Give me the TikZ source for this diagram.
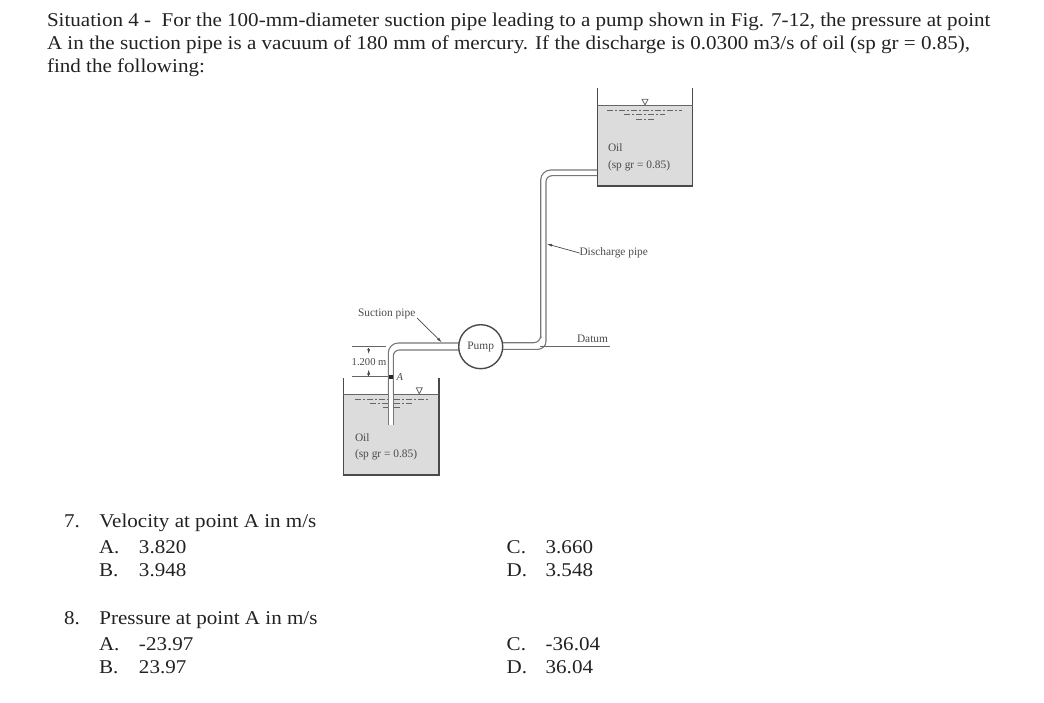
\documentclass[tikz,border=0pt]{standalone}
\usepackage{fontspec}
\setmainfont{Liberation Serif}
\newfontfamily\bodyf[FakeStretch=1.08]{Liberation Serif}
\definecolor{ink}{HTML}{222222}
\definecolor{fig}{HTML}{4A4A4A}
\definecolor{oil}{HTML}{DCDCDC}
\newcommand{\optA}[2]{\makebox[40pt][l]{#1}#2}
\newcommand{\optC}[2]{\makebox[39pt][l]{#1}#2}
\tikzset{
 x=1pt,y=-1pt,
 body/.style={anchor=base west,inner sep=0pt,outer sep=0pt,text=ink,font=\fontsize{19.5}{22}\selectfont\bodyf},
 figt/.style={inner sep=0pt,outer sep=0pt,text=fig,font=\fontsize{11.4}{12}\selectfont},
 wall/.style={draw=fig,line width=1.5pt},
 pipe/.style={draw=fig!75,line width=1.1pt},
 thin1/.style={draw=fig!85,line width=.8pt},
 ripple/.style={draw=fig!85,line width=.9pt,dash pattern=on 6pt off 2pt on 2pt off 2pt},
 lead/.style={draw=fig,line width=.7pt,-{Latex[length=5pt,width=3pt]}},
}
\usetikzlibrary{arrows.meta}
\begin{document}
\begin{tikzpicture}
\useasboundingbox (0,0) rectangle (1044,703);
\node[body] (t1) at (47,27) {Situation 4 -\ \ For the 100-mm-diameter suction pipe leading to a pump shown in Fig. 7-12, the pressure at point};
\node[body] (t2) at (47,50) {A in the suction pipe is a vacuum of 180 mm of mercury. If the discharge is 0.0300 m3/s of oil (sp gr = 0.85),};
\node[body] (t3) at (47,73) {find the following:};
% upper tank
\fill[oil] (597,105) rectangle (692.5,186);
\draw[wall] (597.3,88) -- (597.3,186) -- (692.7,186) -- (692.7,88);
\draw[thin1] (597,105) -- (692.5,105);
\draw[thin1] (645,105) -- (642,99.3) -- (648,99.3) -- cycle;
\draw[ripple] (607,110) -- (682,110);
\draw[ripple] (624,114.3) -- (665,114.3);
\draw[ripple] (636,119) -- (654,119);
\node[figt,anchor=west] (oil1) at (608,148) {Oil};
\node[figt,anchor=west] (sp1) at (608,165.7) {(sp gr = 0.85)};
% discharge pipe
\draw[pipe,rounded corners=10pt] (597,170) -- (540.7,170) -- (540.7,338);
\draw[pipe,rounded corners=6pt] (597,175.7) -- (546,175.7) -- (546,340);
\draw[pipe,rounded corners=7pt] (540.7,338) -- (540.7,342.7) -- (503,342.7);
\draw[pipe,rounded corners=8pt] (546,340) -- (546,349.3) -- (503,349.3);
\draw[thin1] (540,346.3) -- (610,346.3);
% suction pipe
\draw[pipe,rounded corners=10pt] (459,343) -- (388.3,343) -- (388.3,425);
\draw[pipe,rounded corners=6pt] (459,350) -- (393.3,350) -- (393.3,425);
% pump
\node[circle,draw=fig,line width=1.4pt,minimum size=44pt,inner sep=0pt,fill=white,text=fig,font=\fontsize{11.4}{12}\selectfont] (pump) at (480.7,346.7) {Pump};
% lower tank
\fill[oil] (343.3,394.3) rectangle (439,475);
\fill[white] (388.3,394.3) rectangle (393.3,425);
\draw[pipe] (388.3,394) -- (388.3,425);
\draw[pipe] (393.3,394) -- (393.3,425);
\draw[wall] (343.3,378) -- (343.3,475) -- (439,475) -- (439,378);
\draw[thin1] (343.3,394.3) -- (388.3,394.3);
\draw[thin1] (393.3,394.3) -- (439,394.3);
\draw[thin1] (419.3,394) -- (416.3,387.7) -- (422.3,387.7) -- cycle;
\draw[ripple] (355,399.3) -- (388,399.3);
\draw[ripple] (394,399.3) -- (428,399.3);
\draw[ripple] (370,403.3) -- (388,403.3);
\draw[ripple] (394,403.3) -- (412,403.3);
\draw[ripple] (383,407.3) -- (388,407.3);
\draw[ripple] (394,407.3) -- (400,407.3);
\node[figt,anchor=west] (oil2) at (355,437.7) {Oil};
\node[figt,anchor=west] (sp2) at (355,455) {(sp gr = 0.85)};
% dimension
\coordinate (d1a) at (351.7,346.7); \coordinate (d1b) at (386,346.7);
\coordinate (d2a) at (351.7,376.7); \coordinate (d2b) at (388,376.7);
\draw[thin1] (d1a) -- (d1b);
\draw[thin1] (d2a) -- (d2b);
\node[figt,anchor=west,font=\fontsize{10.6}{11}\selectfont] (dim) at (351.7,361.7) {1.200 m};
\coordinate (ar1a) at (368.7,347.5); \coordinate (ar1b) at (368.7,354);
\coordinate (ar2a) at (368.7,376); \coordinate (ar2b) at (368.7,369.5);
\draw[lead,line width=.5pt] (ar1a) -- (ar1b);
\draw[lead,line width=.5pt] (ar2a) -- (ar2b);
\fill[black!85] (389,375) rectangle (393.3,379.3);
\node[figt,anchor=west,font=\fontsize{10.5}{11}\selectfont\itshape] (ptA) at (396.7,377) {A};
% labels
\node[figt,anchor=west] (suct) at (358,314.3) {Suction pipe};
\coordinate (s1) at (417,318); \coordinate (s2) at (441.7,342.3);
\draw[lead] (s1) -- (s2);
\node[figt,anchor=west] (dis) at (579.5,253) {Discharge pipe};
\coordinate (d0) at (547,244);
\draw[lead] (dis.west) -- (d0);
\node[figt,anchor=west] (dat) at (577,339) {Datum};
% questions
\node[body] (q7) at (64,527.5) {\makebox[35.3pt][l]{7.}Velocity at point A in m/s};
\node[body] (a7) at (99,553.3) {\optA{A.}{3.820}};
\node[body] (b7) at (99,576) {\optA{B.}{3.948}};
\node[body] (c7) at (506.7,553.3) {\optC{C.}{3.660}};
\node[body] (d7) at (506.7,576) {\optC{D.}{3.548}};
\node[body] (q8) at (64,624.5) {\makebox[35.3pt][l]{8.}Pressure at point A in m/s};
\node[body] (a8) at (99,650) {\optA{A.}{-23.97}};
\node[body] (b8) at (99,673.3) {\optA{B.}{23.97}};
\node[body] (c8) at (506.7,650) {\optC{C.}{-36.04}};
\node[body] (d8) at (506.7,673.3) {\optC{D.}{36.04}};
\end{tikzpicture}
\end{document}
